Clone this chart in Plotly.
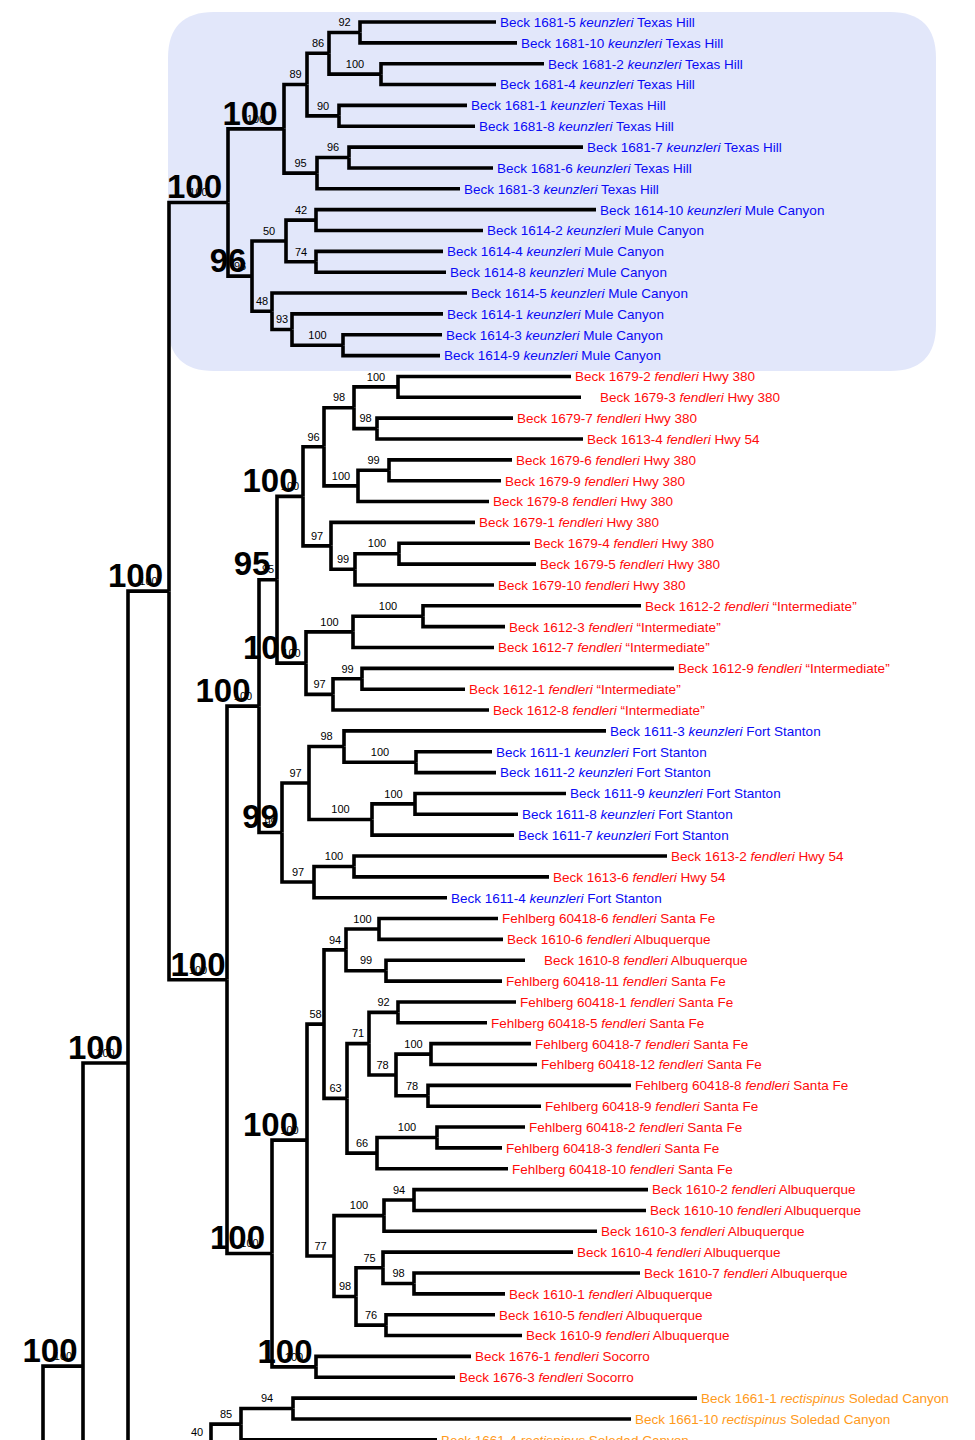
import plotly.graph_objects as go

# ---------------- DATA ----------------
TIP_SPECIMEN = [
    "Beck 1681-5", "Beck 1681-10", "Beck 1681-2", "Beck 1681-4", "Beck 1681-1", "Beck 1681-8",
    "Beck 1681-7", "Beck 1681-6", "Beck 1681-3",
    "Beck 1614-10", "Beck 1614-2", "Beck 1614-4", "Beck 1614-8", "Beck 1614-5", "Beck 1614-1",
    "Beck 1614-3", "Beck 1614-9",
    "Beck 1679-2", "\u00a0\u00a0\u00a0\u00a0Beck 1679-3", "Beck 1679-7", "Beck 1613-4", "Beck 1679-6", "Beck 1679-9",
    "Beck 1679-8", "Beck 1679-1", "Beck 1679-4", "Beck 1679-5", "Beck 1679-10",
    "Beck 1612-2", "Beck 1612-3", "Beck 1612-7", "Beck 1612-9", "Beck 1612-1", "Beck 1612-8",
    "Beck 1611-3", "Beck 1611-1", "Beck 1611-2", "Beck 1611-9", "Beck 1611-8", "Beck 1611-7",
    "Beck 1613-2", "Beck 1613-6", "Beck 1611-4",
    "Fehlberg 60418-6", "Beck 1610-6", "\u00a0\u00a0\u00a0\u00a0Beck 1610-8", "Fehlberg 60418-11", "Fehlberg 60418-1",
    "Fehlberg 60418-5", "Fehlberg 60418-7", "Fehlberg 60418-12", "Fehlberg 60418-8",
    "Fehlberg 60418-9", "Fehlberg 60418-2", "Fehlberg 60418-3", "Fehlberg 60418-10",
    "Beck 1610-2", "Beck 1610-10", "Beck 1610-3", "Beck 1610-4", "Beck 1610-7", "Beck 1610-1",
    "Beck 1610-5", "Beck 1610-9",
    "Beck 1676-1", "Beck 1676-3",
    "Beck 1661-1", "Beck 1661-10", "Beck 1661-4",
]
TIP_TAXON = (["keunzleri"] * 17 + ["fendleri"] * 17 + ["keunzleri"] * 6 + ["fendleri"] * 2
             + ["keunzleri"] + ["fendleri"] * 23 + ["rectispinus"] * 3)
TIP_LOCALITY = (["Texas Hill"] * 9 + ["Mule Canyon"] * 8 + ["Hwy 380"] * 3 + ["Hwy 54"]
                + ["Hwy 380"] * 7 + ["\u201cIntermediate\u201d"] * 6 + ["Fort Stanton"] * 6
                + ["Hwy 54"] * 2 + ["Fort Stanton"] + ["Santa Fe", "Albuquerque", "Albuquerque"]
                + ["Santa Fe"] * 10 + ["Albuquerque"] * 8 + ["Socorro"] * 2 + ["Soledad Canyon"] * 3)
TIP_PARENT = [
    "t360", "t360", "t381", "t381", "t339", "t339", "t349", "t349", "t317",
    "m316a", "m316a", "m316b", "m316b", "m272", "m292", "m343", "m343",
    "f398", "f398", "f377", "f377", "f389", "f389", "f358", "f331", "f399", "f399", "f355",
    "i423", "i423", "i353", "i362", "i362", "i333",
    "s344", "s416", "s416", "s415", "s415", "s372",
    "s354", "s354", "s314",
    "a379", "a379", "a386", "a386", "a398", "a398", "a431", "a431", "a428", "a428",
    "a437", "a437", "a377",
    "a414", "a414", "a384", "a383", "a414b", "a414b", "a386b", "a386b",
    "o316", "o316",
    "r293", "r293", "r241",
]
TIP_DEPTH = [
    496, 517, 544, 496, 467, 475, 583, 493, 460,
    596, 483, 443, 446, 467, 443, 442, 440,
    571, 581, 513, 583, 512, 501, 489, 475, 530, 536, 494,
    641, 505, 494, 674, 465, 489,
    606, 492, 496, 566, 518, 514,
    667, 549, 447,
    498, 503, 525, 502, 516, 487, 531, 537, 631, 541, 525, 502, 508,
    648, 646, 597, 573, 640, 505, 495, 522,
    471, 455,
    697, 631, 437,
]
# lineages continuing below the visible area (row index, parent)
HIDDEN_ROW = [69, 77, 79, 90]
HIDDEN_PARENT = ["r211", "r183", "c83", "r43"]

NODE_NAME = [
    "r43", "c83", "c128", "c169",
    "k228", "t284", "t307", "t329", "t360", "t381", "t339", "t317", "t349",
    "m252", "m286", "m316a", "m316b", "m272", "m292", "m343",
    "f226", "f259", "f277", "f303", "f324", "f354", "f398", "f377", "f358", "f389",
    "f331", "f355", "f399",
    "i306", "i353", "i423", "i333", "i362",
    "s282", "s309", "s344", "s416", "s372", "s415", "s314", "s354",
    "a272", "a307", "a324", "a346", "a379", "a386", "a347", "a369", "a398", "a396",
    "a431", "a428", "a377", "a437", "a334", "a384", "a414", "a356", "a383", "a414b", "a386b",
    "o316",
    "r183", "r211", "r241", "r293",
]
NODE_PARENT = [
    None, "r43", "c83", "c128",
    "c169", "k228", "t284", "t307", "t329", "t329", "t307", "t284", "t317",
    "k228", "m252", "m286", "m286", "m252", "m272", "m292",
    "c169", "f226", "f259", "f277", "f303", "f324", "f354", "f354", "f324", "f358",
    "f303", "f331", "f355",
    "f277", "i306", "i353", "i306", "i333",
    "f259", "s282", "s309", "s344", "s309", "s372", "s282", "s314",
    "f226", "a272", "a307", "a324", "a346", "a346", "a324", "a347", "a369", "a369",
    "a396", "a396", "a347", "a377", "a307", "a334", "a384", "a334", "a356", "a383", "a356",
    "a272",
    "c128", "r183", "r211", "r241",
]
NODE_DEPTH = [
    43, 83, 128, 169,
    228, 284, 307, 329, 360, 381, 339, 317, 349,
    252, 286, 316, 316, 272, 292, 343,
    227, 259, 277, 303, 324, 354, 398, 377, 358, 389,
    331, 355, 399,
    306, 353, 423, 333, 362,
    282, 309, 344, 416, 372, 415, 314, 354,
    272, 307, 324, 346, 379, 386, 347, 369, 398, 396,
    431, 428, 377, 437, 334, 384, 414, 356, 383, 414, 386,
    316,
    183, 211, 241, 293,
]
NODE_SUPPORT = [
    None, 100, 100, 100,
    100, 100, 89, 86, 92, 100, 90, 95, 96,
    96, 50, 42, 74, 48, 93, 100,
    100, 100, 95, 100, 96, 98, 100, 98, 100, 99,
    97, 99, 100,
    100, 100, 100, 97, 99,
    99, 97, 98, 100, 100, 100, 97, 100,
    100, 100, 58, 94, 100, 99, 63, 71, 92, 78,
    100, 78, 66, 100, 77, 100, 94, 98, 75, 98, 76,
    100,
    None, 40, 85, 94,
]
# nodes whose support is also printed in large bold type
NODE_MAJOR = ["c83", "c128", "c169", "k228", "t284", "m252", "f226", "f259", "f277",
              "f303", "i306", "s282", "a272", "a307", "o316"]

# ---------------- STYLE ----------------
TAXON_COLOR = {"keunzleri": "#0a0af5", "fendleri": "#ff0a0a", "rectispinus": "#ff9a1a"}
# horizontal placement tweak (px) of the large support labels, relative to branch middle
MAJOR_DX = {"c83": -13, "c128": -10, "c169": -13, "k228": -4, "t284": -6, "m252": -12,
            "f226": 0, "f259": -20, "f277": -16, "f303": -20, "i306": -21, "s282": -10,
            "a272": -12, "a307": -19, "o316": -9}

W, H = 975, 1440
OFF = 8            # page body margin around the plot div
ROW_PX = 20.85     # vertical spacing of tips (px)
TOP_PX = 22.0      # page y of first tip
PX = 1.0 / ROW_PX  # one pixel in row units
TXT_DY = 1.5 * PX  # small downward nudge of all text
FONT = "Liberation Sans, Arial, Helvetica, sans-serif"

# ---------------- TREE GEOMETRY ----------------
depth = dict(zip(NODE_NAME, NODE_DEPTH))
parent = dict(zip(NODE_NAME, NODE_PARENT))
children = {n: [] for n in NODE_NAME}
for n, p in zip(NODE_NAME, NODE_PARENT):
    if p is not None:
        children[p].append(("node", n))
tip_rows = list(range(len(TIP_SPECIMEN)))
for i, p in enumerate(TIP_PARENT):
    children[p].append(("tip", i))
for r, p in zip(HIDDEN_ROW, HIDDEN_PARENT):
    children[p].append(("hidden", r))

ypos = {}


def child_y(c):
    kind, v = c
    if kind == "node":
        return node_y(v)
    return float(v)


def node_y(n):
    if n not in ypos:
        ys = [child_y(c) for c in children[n]]
        ypos[n] = (min(ys) + max(ys)) / 2.0
    return ypos[n]


def child_x(c):
    kind, v = c
    if kind == "node":
        return depth[v]
    if kind == "tip":
        return TIP_DEPTH[v]
    return 420.0


lx, ly = [], []
for n in NODE_NAME:
    ny = node_y(n)
    for c in children[n]:
        cy = child_y(c)
        lx += [depth[n], depth[n], child_x(c), None]
        ly += [ny, cy, cy, None]

fig = go.Figure()
fig.add_trace(go.Scatter(x=lx, y=ly, mode="lines",
                         line=dict(color="black", width=3.6),
                         hoverinfo="skip", showlegend=False))

# tip labels
tip_text = [f"{s} <i>{t}</i> {l}" for s, t, l in zip(TIP_SPECIMEN, TIP_TAXON, TIP_LOCALITY)]
fig.add_trace(go.Scatter(
    x=[d + 4 for d in TIP_DEPTH], y=[r + TXT_DY for r in tip_rows], mode="text", text=tip_text,
    textposition="middle right",
    textfont=dict(family=FONT, size=13.5, color=[TAXON_COLOR[t] for t in TIP_TAXON]),
    hoverinfo="skip", showlegend=False))

# support values
sx, sy, st = [], [], []
bx, by, bt = [], [], []
for n, s in zip(NODE_NAME, NODE_SUPPORT):
    if s is None or parent[n] is None:
        continue
    mid = (depth[n] + depth[parent[n]]) / 2.0
    sx.append(mid)
    sy.append(node_y(n) - 10.5 * PX + TXT_DY)
    st.append(str(s))
    if n in NODE_MAJOR:
        bx.append(mid + MAJOR_DX.get(n, -12))
        by.append(node_y(n) - 14 * PX + TXT_DY)
        bt.append(f"<b>{s}</b>")

fig.add_trace(go.Scatter(x=bx, y=by, mode="text", text=bt, textposition="middle center",
                         textfont=dict(family=FONT, size=33, color="black"),
                         hoverinfo="skip", showlegend=False))
fig.add_trace(go.Scatter(x=sx, y=sy, mode="text", text=st, textposition="middle center",
                         textfont=dict(family=FONT, size=11, color="black"),
                         hoverinfo="skip", showlegend=False))

# highlighted clade background (rounded box), page pixel extents
x0, x1 = 168, 936
y0, y1 = (12 - TOP_PX) * PX, (371 - TOP_PX) * PX
rx, ry = 46, 46 * PX
path = (f"M {x0 + rx},{y0} L {x1 - rx},{y0} Q {x1},{y0} {x1},{y0 + ry} "
        f"L {x1},{y1 - ry} Q {x1},{y1} {x1 - rx},{y1} L {x0 + rx},{y1} "
        f"Q {x0},{y1} {x0},{y1 - ry} L {x0},{y0 + ry} Q {x0},{y0} {x0 + rx},{y0} Z")
fig.add_shape(type="path", path=path, fillcolor="#e2e7fa", line=dict(width=0), layer="below")

fig.update_layout(
    width=W, height=H,
    margin=dict(l=0, r=0, t=0, b=0),
    paper_bgcolor="white", plot_bgcolor="white",
    xaxis=dict(range=[OFF, W + OFF], visible=False, fixedrange=True),
    yaxis=dict(range=[(H + OFF - TOP_PX) * PX, (OFF - TOP_PX) * PX],
               visible=False, fixedrange=True),
    hovermode=False,
    showlegend=False,
)

fig.write_html("out.html")
